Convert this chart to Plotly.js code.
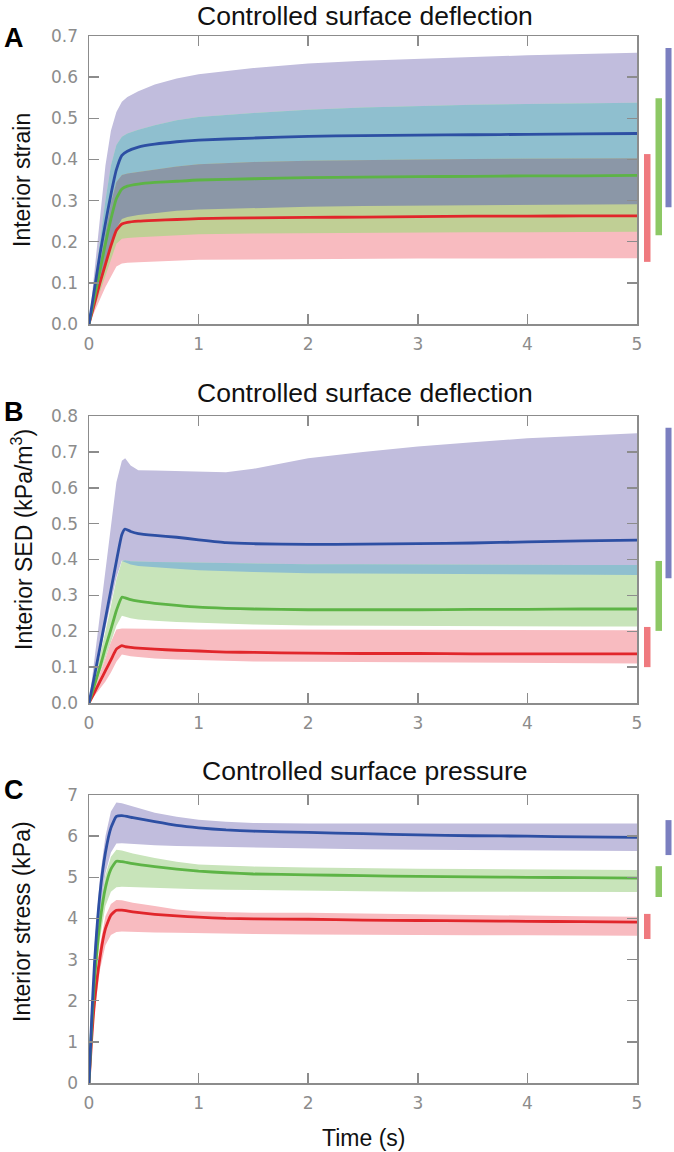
<!DOCTYPE html>
<html><head><meta charset="utf-8">
<script src="https://cdn.plot.ly/plotly-3.0.1.min.js"></script>
<style>html,body{margin:0;padding:0;background:#fff}#chart{width:674px;height:1152px}</style>
</head><body><div id="chart"></div>
<script>
// ---------- Panel A: interior strain (controlled surface deflection)
const timeA = [0, 0.05, 0.1, 0.15, 0.2, 0.25, 0.3, 0.35, 0.45, 0.6, 0.8, 1, 1.5, 2, 2.5, 3, 3.5, 4, 4.5, 5];
const strainBlueMean = [0, 0.085, 0.17, 0.245, 0.315, 0.375, 0.41, 0.42, 0.43, 0.437, 0.443, 0.447, 0.452, 0.456, 0.458, 0.459, 0.46, 0.461, 0.462, 0.463];
const strainBlueHi   = [0, 0.13, 0.26, 0.385, 0.47, 0.515, 0.54, 0.552, 0.566, 0.582, 0.597, 0.607, 0.622, 0.633, 0.64, 0.645, 0.649, 0.653, 0.656, 0.659];
const strainBlueLo   = [0, 0.045, 0.09, 0.14, 0.19, 0.232, 0.255, 0.26, 0.265, 0.27, 0.275, 0.278, 0.282, 0.285, 0.287, 0.288, 0.289, 0.29, 0.29, 0.291];
const strainGreenMean = [0, 0.065, 0.13, 0.195, 0.255, 0.305, 0.328, 0.335, 0.34, 0.344, 0.347, 0.35, 0.353, 0.356, 0.357, 0.358, 0.359, 0.36, 0.36, 0.361];
const strainGreenHi   = [0, 0.1, 0.2, 0.3, 0.385, 0.435, 0.455, 0.463, 0.472, 0.483, 0.495, 0.503, 0.513, 0.521, 0.526, 0.53, 0.533, 0.535, 0.537, 0.538];
const strainGreenLo   = [0, 0.04, 0.08, 0.12, 0.16, 0.195, 0.207, 0.209, 0.211, 0.213, 0.216, 0.218, 0.22, 0.221, 0.222, 0.222, 0.223, 0.223, 0.224, 0.224];
const strainRedMean = [0, 0.05, 0.1, 0.145, 0.19, 0.228, 0.243, 0.247, 0.25, 0.252, 0.254, 0.256, 0.258, 0.259, 0.26, 0.261, 0.262, 0.262, 0.263, 0.263];
const strainRedHi   = [0, 0.075, 0.15, 0.225, 0.295, 0.345, 0.362, 0.366, 0.37, 0.376, 0.383, 0.388, 0.394, 0.397, 0.399, 0.4, 0.401, 0.402, 0.402, 0.403];
const strainRedLo   = [0, 0.03, 0.06, 0.09, 0.115, 0.14, 0.147, 0.149, 0.15, 0.152, 0.154, 0.156, 0.157, 0.158, 0.158, 0.159, 0.159, 0.16, 0.16, 0.16];
const strainRangeBlue = [0.284, 0.671];
const strainRangeGreen = [0.216, 0.549];
const strainRangeRed = [0.151, 0.413];

// ---------- Panel B: interior SED (controlled surface deflection)
const timeB = [0, 0.05, 0.1, 0.15, 0.2, 0.25, 0.3, 0.33, 0.38, 0.45, 0.6, 0.8, 1, 1.25, 1.5, 2, 2.5, 3, 3.5, 4, 4.5, 5];
const sedBlueMean = [0, 0.075, 0.155, 0.235, 0.315, 0.395, 0.47, 0.485, 0.478, 0.472, 0.467, 0.462, 0.455, 0.447, 0.444, 0.442, 0.443, 0.444, 0.446, 0.449, 0.452, 0.454];
const sedBlueHi   = [0, 0.123, 0.246, 0.37, 0.49, 0.615, 0.675, 0.682, 0.662, 0.649, 0.648, 0.647, 0.645, 0.643, 0.653, 0.682, 0.7, 0.715, 0.727, 0.738, 0.745, 0.752];
const sedBlueLo   = [0, 0.07, 0.14, 0.21, 0.28, 0.35, 0.397, 0.392, 0.386, 0.382, 0.378, 0.374, 0.37, 0.367, 0.365, 0.362, 0.361, 0.36, 0.359, 0.358, 0.357, 0.357];
const sedGreenMean = [0, 0.05, 0.1, 0.155, 0.205, 0.258, 0.295, 0.293, 0.288, 0.284, 0.278, 0.272, 0.267, 0.264, 0.262, 0.26, 0.26, 0.26, 0.261, 0.261, 0.262, 0.262];
const sedGreenHi   = [0, 0.065, 0.13, 0.2, 0.27, 0.345, 0.396, 0.398, 0.395, 0.394, 0.393, 0.392, 0.391, 0.389, 0.388, 0.387, 0.387, 0.386, 0.386, 0.385, 0.385, 0.385];
const sedGreenLo   = [0, 0.04, 0.08, 0.125, 0.17, 0.215, 0.243, 0.24, 0.236, 0.233, 0.229, 0.226, 0.224, 0.221, 0.219, 0.216, 0.215, 0.214, 0.214, 0.213, 0.213, 0.213];
const sedRedMean = [0, 0.03, 0.06, 0.09, 0.12, 0.15, 0.16, 0.157, 0.155, 0.153, 0.15, 0.147, 0.145, 0.142, 0.141, 0.139, 0.138, 0.138, 0.137, 0.137, 0.137, 0.137];
const sedRedHi   = [0, 0.04, 0.08, 0.125, 0.17, 0.205, 0.208, 0.208, 0.207, 0.207, 0.206, 0.206, 0.205, 0.205, 0.204, 0.204, 0.204, 0.203, 0.203, 0.203, 0.203, 0.203];
const sedRedLo   = [0, 0.02, 0.04, 0.06, 0.085, 0.115, 0.135, 0.133, 0.13, 0.128, 0.124, 0.121, 0.119, 0.117, 0.116, 0.115, 0.114, 0.113, 0.112, 0.111, 0.11, 0.11];
const sedRangeBlue = [0.348, 0.767];
const sedRangeGreen = [0.201, 0.396];
const sedRangeRed = [0.100, 0.212];

// ---------- Panel C: interior stress (controlled surface pressure)
const timeC = [0, 0.025, 0.05, 0.1, 0.15, 0.2, 0.25, 0.3, 0.4, 0.6, 0.8, 1, 1.25, 1.5, 2, 2.5, 3, 3.5, 4, 4.5, 5];
const stressBlueMean = [0, 1.6, 2.9, 4.6, 5.6, 6.2, 6.48, 6.5, 6.45, 6.35, 6.26, 6.2, 6.15, 6.12, 6.09, 6.06, 6.03, 6.01, 6.0, 5.98, 5.97];
const stressBlueHi   = [0, 1.8, 3.3, 5.0, 6.0, 6.6, 6.82, 6.8, 6.72, 6.57, 6.47, 6.4, 6.35, 6.32, 6.31, 6.31, 6.31, 6.31, 6.31, 6.31, 6.31];
const stressBlueLo   = [0, 1.4, 2.5, 4.1, 5.1, 5.6, 5.82, 5.83, 5.81, 5.78, 5.76, 5.75, 5.73, 5.72, 5.7, 5.68, 5.67, 5.66, 5.65, 5.64, 5.64];
const stressGreenMean = [0, 1.4, 2.5, 3.9, 4.75, 5.2, 5.39, 5.38, 5.33, 5.26, 5.2, 5.15, 5.11, 5.08, 5.06, 5.04, 5.02, 5.01, 5.0, 4.99, 4.98];
const stressGreenHi   = [0, 1.5, 2.75, 4.2, 5.05, 5.5, 5.67, 5.65, 5.58, 5.47, 5.38, 5.31, 5.28, 5.26, 5.24, 5.22, 5.21, 5.2, 5.19, 5.18, 5.18];
const stressGreenLo   = [0, 1.2, 2.2, 3.5, 4.3, 4.65, 4.76, 4.77, 4.76, 4.74, 4.72, 4.71, 4.7, 4.69, 4.67, 4.66, 4.65, 4.65, 4.64, 4.64, 4.64];
const stressRedMean = [0, 1.1, 1.95, 3.05, 3.75, 4.08, 4.2, 4.2, 4.16, 4.1, 4.06, 4.03, 4.0, 3.99, 3.98, 3.96, 3.95, 3.94, 3.93, 3.92, 3.91];
const stressRedHi   = [0, 1.2, 2.15, 3.35, 4.05, 4.35, 4.45, 4.44, 4.38, 4.3, 4.22, 4.17, 4.15, 4.14, 4.14, 4.12, 4.1, 4.08, 4.07, 4.05, 4.04];
const stressRedLo   = [0, 0.9, 1.7, 2.75, 3.35, 3.6, 3.67, 3.68, 3.67, 3.66, 3.65, 3.64, 3.63, 3.62, 3.61, 3.6, 3.6, 3.59, 3.59, 3.58, 3.58];
const stressRangeBlue = [5.54, 6.39];
const stressRangeGreen = [4.52, 5.27];
const stressRangeRed = [3.50, 4.11];

// ---------- styles
const C = {
  blueLine: '#2d4fa3', greenLine: '#5db446', redLine: '#e1262b',
  blueBand: '#c1bddd', greenBand: '#c8e4ba', redBand: '#f8bbc0',
  bg: '#8fbfcf', gr: '#c0cf95', br: '#b9a3c4', bgr: '#8b97a7',
  blueBar: '#7b7fc0', greenBar: '#8dc865', redBar: '#ef7a7f'
};
const TXT = 'Liberation Sans, Arial, Helvetica, sans-serif';
const TICKF = {family: 'DejaVu Sans, Verdana, sans-serif', size: 17, color: '#8c8c8c'};
const AXC = '#8c8c8c';

function band(x, lo, hi, color, xa, ya) {
  return [
    {x: x, y: lo, mode: 'lines', line: {width: 0, color: color}, xaxis: xa, yaxis: ya, hoverinfo: 'skip'},
    {x: x, y: hi, mode: 'lines', line: {width: 0, color: color}, fill: 'tonexty', fillcolor: color, xaxis: xa, yaxis: ya, hoverinfo: 'skip'}
  ];
}
function inter(a, b) {
  const hi = a.hi.map((v, i) => Math.min(v, b.hi[i]));
  const lo = a.lo.map((v, i) => Math.min(Math.max(v, b.lo[i]), hi[i]));
  return {lo: lo, hi: hi};
}
function panel(x, blue, green, red, xa, ya) {
  const out = [];
  out.push(...band(x, blue.lo, blue.hi, C.blueBand, xa, ya));
  out.push(...band(x, green.lo, green.hi, C.greenBand, xa, ya));
  out.push(...band(x, red.lo, red.hi, C.redBand, xa, ya));
  const br = inter(blue, red), bg = inter(blue, green), gr = inter(green, red), bgr = inter(bg, red);
  out.push(...band(x, br.lo, br.hi, C.br, xa, ya));
  out.push(...band(x, bg.lo, bg.hi, C.bg, xa, ya));
  out.push(...band(x, gr.lo, gr.hi, C.gr, xa, ya));
  out.push(...band(x, bgr.lo, bgr.hi, C.bgr, xa, ya));
  [[red.mean, C.redLine], [green.mean, C.greenLine], [blue.mean, C.blueLine]].forEach(([m, c]) => {
    out.push({x: x, y: m, mode: 'lines', line: {width: 2.8, color: c, shape: 'spline', smoothing: 0.5}, xaxis: xa, yaxis: ya});
  });
  return out;
}

const traces = [].concat(
  panel(timeA, {mean: strainBlueMean, lo: strainBlueLo, hi: strainBlueHi},
               {mean: strainGreenMean, lo: strainGreenLo, hi: strainGreenHi},
               {mean: strainRedMean, lo: strainRedLo, hi: strainRedHi}, 'x', 'y'),
  panel(timeB, {mean: sedBlueMean, lo: sedBlueLo, hi: sedBlueHi},
               {mean: sedGreenMean, lo: sedGreenLo, hi: sedGreenHi},
               {mean: sedRedMean, lo: sedRedLo, hi: sedRedHi}, 'x2', 'y2'),
  panel(timeC, {mean: stressBlueMean, lo: stressBlueLo, hi: stressBlueHi},
               {mean: stressGreenMean, lo: stressGreenLo, hi: stressGreenHi},
               {mean: stressRedMean, lo: stressRedLo, hi: stressRedHi}, 'x3', 'y3')
);

function xAxis(domainAnchor) {
  return {anchor: domainAnchor, domain: [0, 1], range: [0, 5], dtick: 1, tick0: 0,
    ticks: 'inside', ticklen: 10, tickwidth: 1.5, tickcolor: AXC, showline: true, linecolor: AXC, linewidth: 1.5,
    mirror: 'ticks', showgrid: false, zeroline: false, tickfont: TICKF, ticklabelstandoff: 4, fixedrange: true};
}
function yAxis(anchor, domain, range, dtick, fmt) {
  return {anchor: anchor, domain: domain, range: range, dtick: dtick, tick0: 0, tickformat: fmt,
    ticks: 'inside', ticklen: 10, tickwidth: 1.5, tickcolor: AXC, showline: true, linecolor: AXC, linewidth: 1.5,
    mirror: 'ticks', showgrid: false, zeroline: false, tickfont: TICKF, ticklabelstandoff: 6, fixedrange: true};
}
const H = 1152;
const py = p => 1 - p / H;
const px = p => (p - 89) / 548;

function rangeBars(yref, blue, green, red) {
  return [[red, C.redBar, 644, 650.5], [green, C.greenBar, 655.5, 662], [blue, C.blueBar, 665.5, 671.5]].map(([r, c, a, b]) => ({
    type: 'rect', xref: 'paper', yref: yref, x0: px(a), x1: px(b), y0: r[0], y1: r[1],
    fillcolor: c, line: {width: 0}, layer: 'above'
  }));
}

const ann = (text, x, y, opts) => Object.assign({text: text, xref: 'paper', yref: 'paper', x: x, y: y,
  showarrow: false, xanchor: 'center', yanchor: 'middle', font: {family: TXT, size: 23, color: '#111'}}, opts || {});

const layout = {
  width: 674, height: 1152, margin: {l: 89, r: 37, t: 0, b: 0, pad: 0},
  paper_bgcolor: '#fff', plot_bgcolor: '#fff', showlegend: false,
  xaxis: xAxis('y'), xaxis2: xAxis('y2'), xaxis3: xAxis('y3'),
  yaxis: yAxis('x', [py(324), py(36)], [0, 0.7], 0.1, '.1f'),
  yaxis2: yAxis('x2', [py(703), py(416)], [0, 0.8], 0.1, '.1f'),
  yaxis3: yAxis('x3', [py(1083), py(795)], [0, 7], 1, 'd'),
  shapes: [].concat(
    rangeBars('y', strainRangeBlue, strainRangeGreen, strainRangeRed),
    rangeBars('y2', sedRangeBlue, sedRangeGreen, sedRangeRed),
    rangeBars('y3', stressRangeBlue, stressRangeGreen, stressRangeRed)
  ),
  annotations: [
    ann('Controlled surface deflection', px(365), py(16), {font: {family: TXT, size: 26.5, color: '#111'}}),
    ann('Controlled surface deflection', px(365), py(393), {font: {family: TXT, size: 26.5, color: '#111'}}),
    ann('Controlled surface pressure', px(365), py(771), {font: {family: TXT, size: 26.5, color: '#111'}}),
    ann('<b>A</b>', px(2), py(38), {xanchor: 'left', font: {family: TXT, size: 27, color: '#000'}}),
    ann('<b>B</b>', px(2), py(412), {xanchor: 'left', font: {family: TXT, size: 27, color: '#000'}}),
    ann('<b>C</b>', px(2), py(790), {xanchor: 'left', font: {family: TXT, size: 27, color: '#000'}}),
    ann('Interior strain', px(22), py(180), {textangle: -90}),
    ann('Interior SED (kPa/m<sup>3</sup>)', px(22), py(540), {textangle: -90}),
    ann('Interior stress (kPa)', px(22), py(922), {textangle: -90}),
    ann('Time (s)', px(363), py(1138))
  ]
};

Plotly.newPlot('chart', traces, layout, {staticPlot: true, displayModeBar: false});
</script>
</body></html>
